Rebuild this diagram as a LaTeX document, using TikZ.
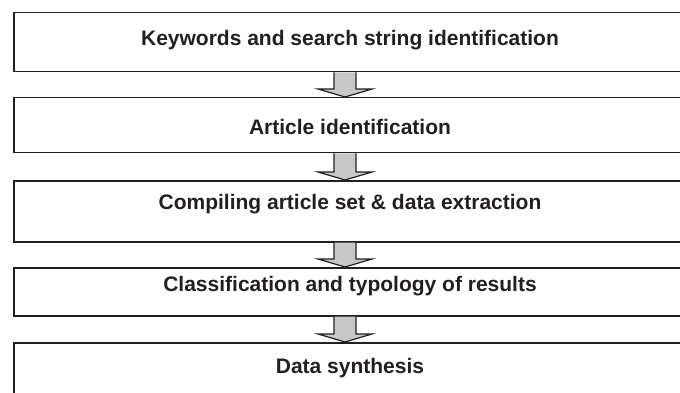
\documentclass[tikz,border=0pt]{standalone}
\usepackage{fontspec}
\setmainfont{Liberation Sans}
\usetikzlibrary{calc}
\definecolor{edge}{HTML}{231F20}
\definecolor{arrfill}{HTML}{C8C8C8}
\tikzset{
  stagebox/.style={draw=edge, line width=1.5pt, rectangle, inner sep=0pt, anchor=north west, minimum width=690pt},
  stagetext/.style={anchor=base, font=\fontsize{21}{24}\selectfont\bfseries, text=edge, inner sep=0pt},
  flowarr/.style={draw=edge, fill=arrfill, line width=1.2pt, line join=miter}
}
\newcommand\FlowArr[2]{%
  \path (#1.south west) ++(332,0) coordinate (#1-#2-top);
  \path (#2.north west) ++(332,0) coordinate (#1-#2-tip);
  \draw[flowarr] ($(#1-#2-top)+(-11,0)$) -- ($(#1-#2-tip)+(-11,-8)$) -- ($(#1-#2-tip)+(-27,-8)$)
     -- (#1-#2-tip) -- ($(#1-#2-tip)+(27,-8)$) -- ($(#1-#2-tip)+(11,-8)$) -- ($(#1-#2-top)+(11,0)$);
}
\begin{document}
\begin{tikzpicture}[x=1pt,y=-1pt]
\useasboundingbox (0,0) rectangle (680,393);
\begin{scope}
\clip (0,0) rectangle (680,393);
\node[stagebox, minimum height=59pt] (b1) at (13,12) {};
\node[stagebox, minimum height=55pt] (b2) at (13,97) {};
\node[stagebox, minimum height=61pt] (b3) at (13,180) {};
\node[stagebox, minimum height=48pt] (b4) at (13,267) {};
\node[stagebox, minimum height=70pt] (b5) at (13,342) {};
\node[stagetext] (t1) at (350,46) {Keywords and search string identification};
\node[stagetext] (t2) at (350,135) {Article identification};
\node[stagetext] (t3) at (350,209) {Compiling article set \& data extraction};
\node[stagetext] (t4) at (350,291) {Classification and typology of results};
\node[stagetext] (t5) at (350,373) {Data synthesis};
\FlowArr{b1}{b2}
\FlowArr{b2}{b3}
\FlowArr{b3}{b4}
\FlowArr{b4}{b5}
\end{scope}
\end{tikzpicture}
\end{document}
